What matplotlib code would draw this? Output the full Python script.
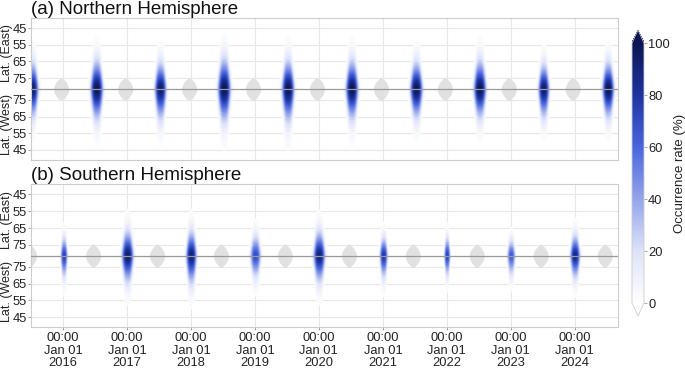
import numpy as np
import matplotlib
matplotlib.use('Agg')
import matplotlib.pyplot as plt
import matplotlib.dates as mdates
from matplotlib.colors import LinearSegmentedColormap, Normalize
import matplotlib.cm as cm

plt.rcParams['font.family'] = ['Liberation Sans', 'DejaVu Sans']

# folded latitude axis: East above the centre line, West below
lat_edge = 81.5
tick_lats = [45, 55, 65, 75]
years = [2016, 2017, 2018, 2019, 2020, 2021, 2022, 2023, 2024]

# summer occurrence seasons: centre date, peak (%), half-width (days), lat scale east/west (deg)
nh_dates = ['2015-07-10', '2016-07-12', '2017-07-11', '2018-07-10', '2019-07-10',
            '2020-07-09', '2021-07-12', '2022-07-10', '2023-07-10', '2024-07-12']
nh_peak = [95, 100, 95, 100, 100, 100, 100, 100, 95, 100]
nh_width = [32, 33, 31, 34, 33, 33, 33, 33, 29, 31]
nh_east = [13, 14, 13, 15, 14, 14, 13, 14, 12, 13]
nh_west = [14, 15, 15, 16, 16, 15, 14, 14, 14, 14]

sh_dates = ['2016-01-07', '2017-01-04', '2018-01-03', '2019-01-05', '2020-01-04',
            '2021-01-06', '2022-01-04', '2023-01-05', '2024-01-05']
sh_peak = [75, 95, 92, 70, 92, 80, 75, 65, 88]
sh_width = [18, 31, 28, 28, 31, 21, 16, 21, 26]
sh_east = [9, 12, 12, 10, 12, 9, 9, 8, 10]
sh_west = [11, 13, 14, 11, 13, 11, 10, 10, 11]

# no-data (polar night) periods
nh_gap_dates = ['2015-12-21', '2016-12-21', '2017-12-21', '2018-12-21', '2019-12-21',
                '2020-12-21', '2021-12-21', '2022-12-21', '2023-12-21']
sh_gap_dates = ['2015-06-21', '2016-06-21', '2017-06-21', '2018-06-21', '2019-06-21',
                '2020-06-21', '2021-06-21', '2022-06-21', '2023-06-21', '2024-06-21']
gap_halfwidth = 43
gap_lat = 74.3

t_start = np.datetime64('2015-07-02')
t_end = np.datetime64('2024-09-05')
ylim = 42.5

days = np.arange(np.datetime64('2015-05-01'), np.datetime64('2024-11-01'))
tnum = mdates.date2num(days)
yy = np.linspace(-ylim, ylim, 341)
T, Y = np.meshgrid(tnum, yy)


def occurrence(dates, peak, width, east, west):
    occ = np.zeros_like(T)
    for d, p, w, e, wst in zip(dates, peak, width, east, west):
        dt = T - mdates.date2num(np.datetime64(d))
        ft = np.exp(-np.abs(dt / w) ** 3)
        scale = np.where(Y >= 0, e, wst) * (0.4 + 0.6 * ft)
        fy = np.exp(-np.abs(Y / scale) ** 1.7)
        occ = np.maximum(occ, p * ft * fy)
    return np.ma.masked_less(occ, 1.5)


cmap = LinearSegmentedColormap.from_list(
    'occ', [(0, '#ffffff'), (0.2, '#dde2f8'), (0.6, '#4a66de'), (0.8, '#1e34a0'), (1, '#0b1653')])
cmap.set_bad((1, 1, 1, 0))
cmap.set_under('#ffffff')
cmap.set_over('#0b1653')
norm = Normalize(0, 100)

fig = plt.figure(figsize=(6.85, 3.69), dpi=100)
ax_a = fig.add_axes([31/685, 1-160/369, 587/685, 142/369])
ax_b = fig.add_axes([31/685, 1-327.3/369, 587/685, 143/369])

panels = [(ax_a, '(a) Northern Hemisphere', nh_dates, nh_peak, nh_width, nh_east, nh_west, nh_gap_dates),
          (ax_b, '(b) Southern Hemisphere', sh_dates, sh_peak, sh_width, sh_east, sh_west, sh_gap_dates)]

yticks = [lat_edge - l for l in tick_lats] + [-(lat_edge - l) for l in tick_lats]
ylabels = [str(l) for l in tick_lats] + [str(l) for l in tick_lats]
xticks = [mdates.date2num(np.datetime64(f'{y}-01-01')) for y in years]

fs = 9.3
for ax, title, dates, peak, width, east, west, gaps in panels:
    occ = occurrence(dates, peak, width, east, west)
    ax.imshow(occ, extent=[tnum[0], tnum[-1], -ylim, ylim], origin='lower', aspect='auto',
              cmap=cmap, norm=norm, interpolation='bilinear', zorder=2)
    for g in gaps:
        c = mdates.date2num(np.datetime64(g))
        tt = np.linspace(-gap_halfwidth, gap_halfwidth, 201)
        h = (lat_edge - gap_lat) * np.sqrt(1 - np.abs(tt) / gap_halfwidth)
        ax.fill_between(c + tt, -h, h, color='#e1e1e1', lw=0, zorder=2.5)
    ax.axhline(0, color='#9a9a9a', lw=0.9, zorder=3)
    ax.set_xlim(mdates.date2num(t_start), mdates.date2num(t_end))
    ax.set_ylim(-ylim, ylim)
    ax.set_yticks(yticks)
    ax.set_yticklabels(ylabels)
    ax.set_xticks(xticks)
    ax.grid(True, color='#e8e8e8', lw=0.8, zorder=0)
    ax.set_axisbelow(True)
    for s in ax.spines.values():
        s.set_color('#cccccc')
        s.set_linewidth(0.8)
    ax.tick_params(axis='both', length=2, width=0.6, color='#999999', pad=1,
                   labelsize=fs, labelcolor='#222222')
    ax.set_title(title, loc='left', fontsize=13.5, pad=0.5, color='#111111')
    ax.text(-0.0405, 0.75, 'Lat. (East)', transform=ax.transAxes, rotation=90,
            ha='center', va='center', fontsize=9, color='#222222')
    ax.text(-0.0405, 0.25, 'Lat. (West)', transform=ax.transAxes, rotation=90,
            ha='center', va='center', fontsize=9, color='#222222')

ax_a.set_xticklabels([])
ax_a.tick_params(axis='x', length=0)
ax_b.tick_params(axis='x', pad=1.5)
ax_b.set_xticklabels([f'00:00\nJan 01\n{y}' for y in years], linespacing=1.05)

cax = fig.add_axes([632/685, 1-316/369, 12/685, 286/369])
cb = fig.colorbar(cm.ScalarMappable(norm=norm, cmap=cmap), cax=cax, extend='both',
                  extendfrac=0.05, ticks=[0, 20, 40, 60, 80, 100])
cb.outline.set_edgecolor('#cccccc')
cb.outline.set_linewidth(0.6)
cb.ax.tick_params(length=2, width=0.6, color='#999999', pad=1, labelsize=fs, labelcolor='#222222')
cb.set_label('Occurrence rate (%)', fontsize=9.5, color='#222222', labelpad=3)

fig.savefig('out.png', dpi=100)
